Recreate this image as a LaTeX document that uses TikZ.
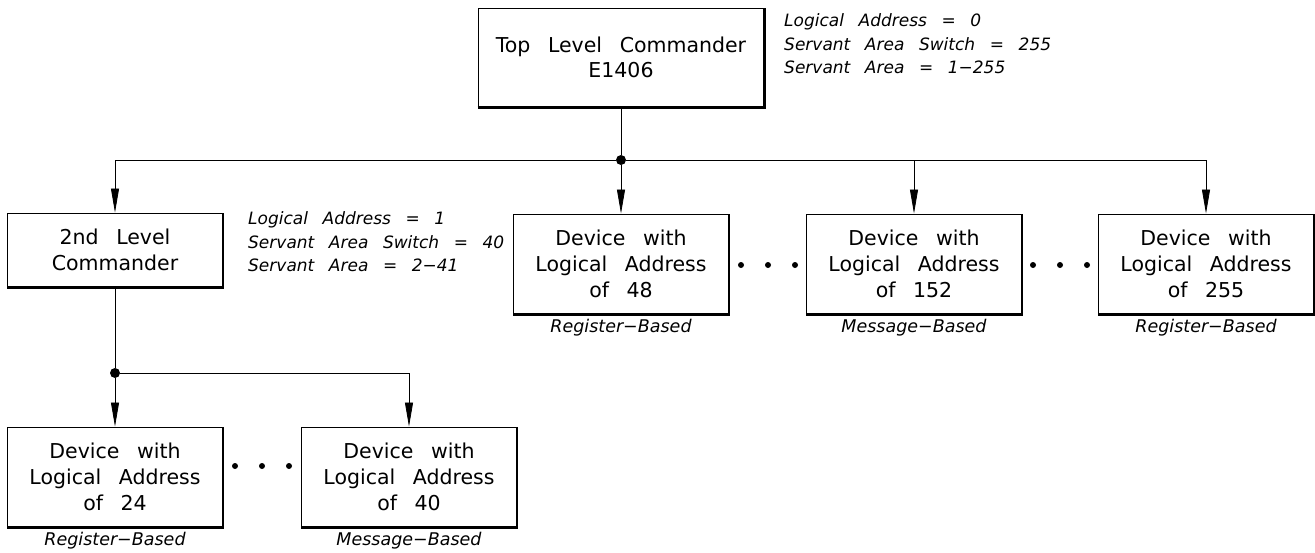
\documentclass[tikz,border=0pt]{standalone}
\usepackage{fontspec}
\setmainfont[WordSpace=2.7]{DejaVu Sans}
\usetikzlibrary{arrows.meta}

\tikzset{
  unit/.style={draw, line width=0.9pt, minimum width=215pt, minimum height=100pt,
    inner sep=0pt, align=center, font=\fontsize{20.5}{25.7}\selectfont},
  note/.style={align=left, inner sep=0pt, font=\itshape\fontsize{17}{23.5}\selectfont},
  kind/.style={label={[inner sep=0pt, label distance=5pt, font=\itshape\fontsize{17.5}{20}\selectfont]below:#1}},
  feed/.style={line width=0.8pt, -{Triangle[length=24pt,width=8pt]}},
  joint/.style={circle, fill=black, minimum size=10pt, inner sep=0pt},
}

\begin{document}
\begin{tikzpicture}[x=1pt,y=-1pt]
\useasboundingbox (0,0) rectangle (1315,552);

% commanders
\node[unit, minimum width=286pt, minimum height=99pt] (top) at (621,57.5) {Top Level Commander\\E1406};
\node[unit, minimum height=74pt] (cmd2) at (115,250) {2nd Level\\Commander};

% first level devices
\node[unit, kind=Register−Based] (d48) at (621,264) {Device with\\Logical Address\\of 48};
\node[unit, kind=Message−Based] (d152) at (914,264) {Device with\\Logical Address\\of 152};
\node[unit, kind=Register−Based] (d255) at (1206,264) {Device with\\Logical Address\\of 255};

% second level devices
\node[unit, kind=Register−Based] (d24) at (115,477) {Device with\\Logical Address\\of 24};
\node[unit, kind=Message−Based] (d40) at (409,477) {Device with\\Logical Address\\of 40};

% heavy lower and right edges
\foreach \n in {top,cmd2,d48,d152,d255,d24,d40}
  \draw[line width=2.6pt] (\n.south west) -- (\n.south east) -- (\n.north east);

% address notes
\node[note, anchor=west] (topnote) at (784,44) {Logical Address = 0\\Servant Area Switch = 255\\Servant Area = 1−255};
\node[note, anchor=west] (cmdnote) at (248,242) {Logical Address = 1\\Servant Area Switch = 40\\Servant Area = 2−41};

% bus joints
\node[joint] (j1) at (621,160) {};
\node[joint] (j2) at (115,373) {};

\draw[line width=0.8pt] (top) -- (j1);
\draw[feed] (j1) -| (cmd2);
\draw[feed] (j1) -- (d48);
\draw[feed] (j1) -| (d152);
\draw[feed] (j1) -| (d255);

\draw[line width=0.8pt] (cmd2) -- (j2);
\draw[feed] (j2) -- (d24);
\draw[feed] (j2) -| (d40);

% ellipsis dots
\foreach \x/\y in {768/265, 1060/265, 262/466}
  \foreach \dx in {-27,0,27}
    \fill (\x+\dx,\y) circle (3pt);
\end{tikzpicture}
\end{document}
